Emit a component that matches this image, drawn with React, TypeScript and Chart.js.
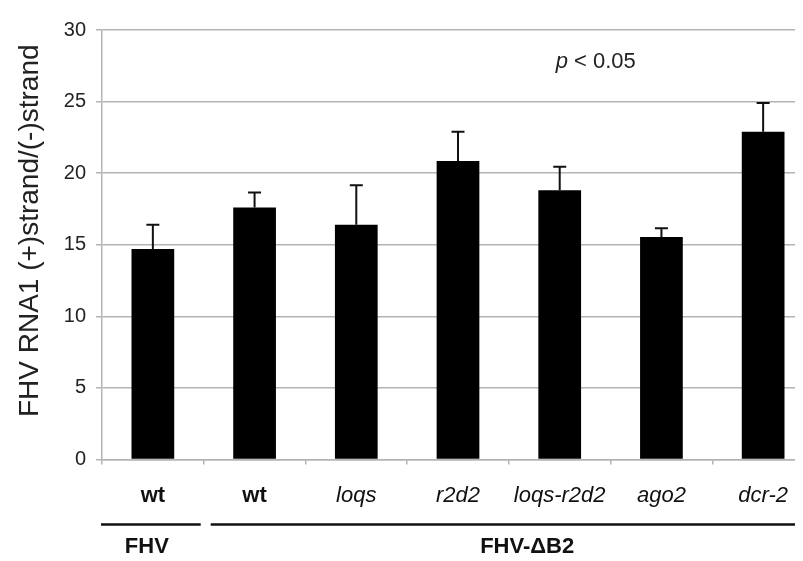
import React, { useEffect, useRef } from "react";
import { Chart, registerables } from "chart.js";

Chart.register(...registerables);

const categories = ["wt", "wt", "loqs", "r2d2", "loqs-r2d2", "ago2", "dcr-2"];
const means = [14.7, 17.6, 16.4, 20.85, 18.8, 15.55, 22.9];
const errors = [1.7, 1.05, 2.75, 2.05, 1.65, 0.6, 2.0];
const yMin = 0;
const yMax = 30;
const yStep = 5;
const groupLabels = ["FHV", "FHV-\u0394B2"];
const groupStart = [0, 1];
const groupEnd = [0, 6];
const yTitle = "FHV RNA1 (+)strand/(-)strand";
const pText = "< 0.05";

const FONT = "'Liberation Sans', Arial, Helvetica, sans-serif";
const GRID = "#b4b4b4";

const extrasPlugin = {
  id: "extras",
  afterDatasetsDraw(chart: any) {
    const ctx = chart.ctx;
    const x = chart.scales.x;
    const y = chart.scales.y;
    const meta = chart.getDatasetMeta(0);
    ctx.save();
    // error bars (upper only)
    ctx.strokeStyle = "#111";
    ctx.lineWidth = 2;
    meta.data.forEach((bar: any, i: number) => {
      const top = y.getPixelForValue(means[i] + errors[i]);
      const base = y.getPixelForValue(means[i]);
      ctx.beginPath();
      ctx.moveTo(bar.x, base);
      ctx.lineTo(bar.x, top);
      ctx.moveTo(bar.x - 6.5, top);
      ctx.lineTo(bar.x + 6.5, top);
      ctx.stroke();
    });
    ctx.restore();
  },
  afterDraw(chart: any) {
    const ctx = chart.ctx;
    const x = chart.scales.x;
    const y = chart.scales.y;
    const catW = x.getPixelForValue(1) - x.getPixelForValue(0);
    ctx.save();
    // p < 0.05
    const px = x.getPixelForValue(3.96);
    const py = y.getPixelForValue(27.75);
    ctx.fillStyle = "#222";
    ctx.textBaseline = "middle";
    ctx.textAlign = "left";
    ctx.font = `italic 22px ${FONT}`;
    ctx.fillText("p", px, py);
    const pw = ctx.measureText("p ").width;
    ctx.font = `22px ${FONT}`;
    ctx.fillText(pText, px + pw, py);

    // y title
    ctx.save();
    ctx.translate(22, (chart.chartArea.top + chart.chartArea.bottom) / 2 - 14);
    ctx.rotate(-Math.PI / 2);
    ctx.textAlign = "center";
    ctx.textBaseline = "middle";
    ctx.font = `28px ${FONT}`;
    ctx.fillStyle = "#222";
    ctx.fillText(yTitle, 0, 0);
    ctx.restore();

    // group lines and labels
    const lineY = chart.chartArea.bottom + 65;
    const textY = chart.chartArea.bottom + 87;
    ctx.strokeStyle = "#111";
    ctx.lineWidth = 2.5;
    ctx.fillStyle = "#111";
    ctx.font = `bold 22px ${FONT}`;
    ctx.textAlign = "center";
    ctx.textBaseline = "middle";
    groupLabels.forEach((lab, g) => {
      const l = x.getPixelForValue(groupStart[g]) - catW / 2 + (g === 0 ? -1 : 7);
      const r = x.getPixelForValue(groupEnd[g]) + catW / 2 - 3;
      ctx.beginPath();
      ctx.moveTo(l, lineY);
      ctx.lineTo(r, lineY);
      ctx.stroke();
      const tx = g === 0 ? x.getPixelForValue(0) - 6 : x.getPixelForValue(3.68);
      ctx.fillText(lab, tx, textY);
    });
    ctx.restore();
  },
};

export default function App() {
  const ref = useRef<HTMLCanvasElement>(null);
  useEffect(() => {
    if (!ref.current) return;
    const chart = new Chart(ref.current, {
      type: "bar",
      data: {
        labels: categories,
        datasets: [
          {
            data: means,
            backgroundColor: "#000",
            borderColor: "#000",
            borderWidth: 0,
            barPercentage: 0.42,
            categoryPercentage: 1,
          },
        ],
      },
      options: {
        responsive: false,
        animation: false,
        layout: { padding: { top: 12, right: 14, left: 0, bottom: 0 } },
        plugins: { legend: { display: false }, tooltip: { enabled: false }, title: { display: false } },
        scales: {
          x: {
            offset: true,
            grid: {
              display: true,
              offset: true,
              drawOnChartArea: false,
              drawTicks: true,
              tickLength: 5,
              color: GRID,
              lineWidth: 1.5,
            },
            border: { display: true, color: GRID, width: 1.5 },
            ticks: {
              padding: 18,
              color: "#111",
              maxRotation: 0,
              autoSkip: false,
              font: (c: any) => ({
                family: FONT,
                size: 22,
                weight: c.index < 2 ? "bold" : "normal",
                style: c.index < 2 ? "normal" : "italic",
              }),
            },
            afterFit: (s: any) => {
              s.height = 101.5;
            },
          },
          y: {
            min: yMin,
            max: yMax,
            grid: { color: GRID, lineWidth: 1.5, tickLength: 6, drawTicks: true },
            border: { display: true, color: GRID, width: 1.5 },
            ticks: {
              stepSize: yStep,
              padding: 10,
              color: "#222",
              font: { family: FONT, size: 20 },
            },
            afterFit: (s: any) => {
              s.width = 94;
            },
          },
        },
      },
      plugins: [extrasPlugin],
    });
    return () => chart.destroy();
  }, []);
  return (
    <div style={{ width: 795, height: 553, overflow: "hidden", background: "#fff" }}>
      <canvas ref={ref} width={820} height={553} style={{ display: "block" }} />
    </div>
  );
}
